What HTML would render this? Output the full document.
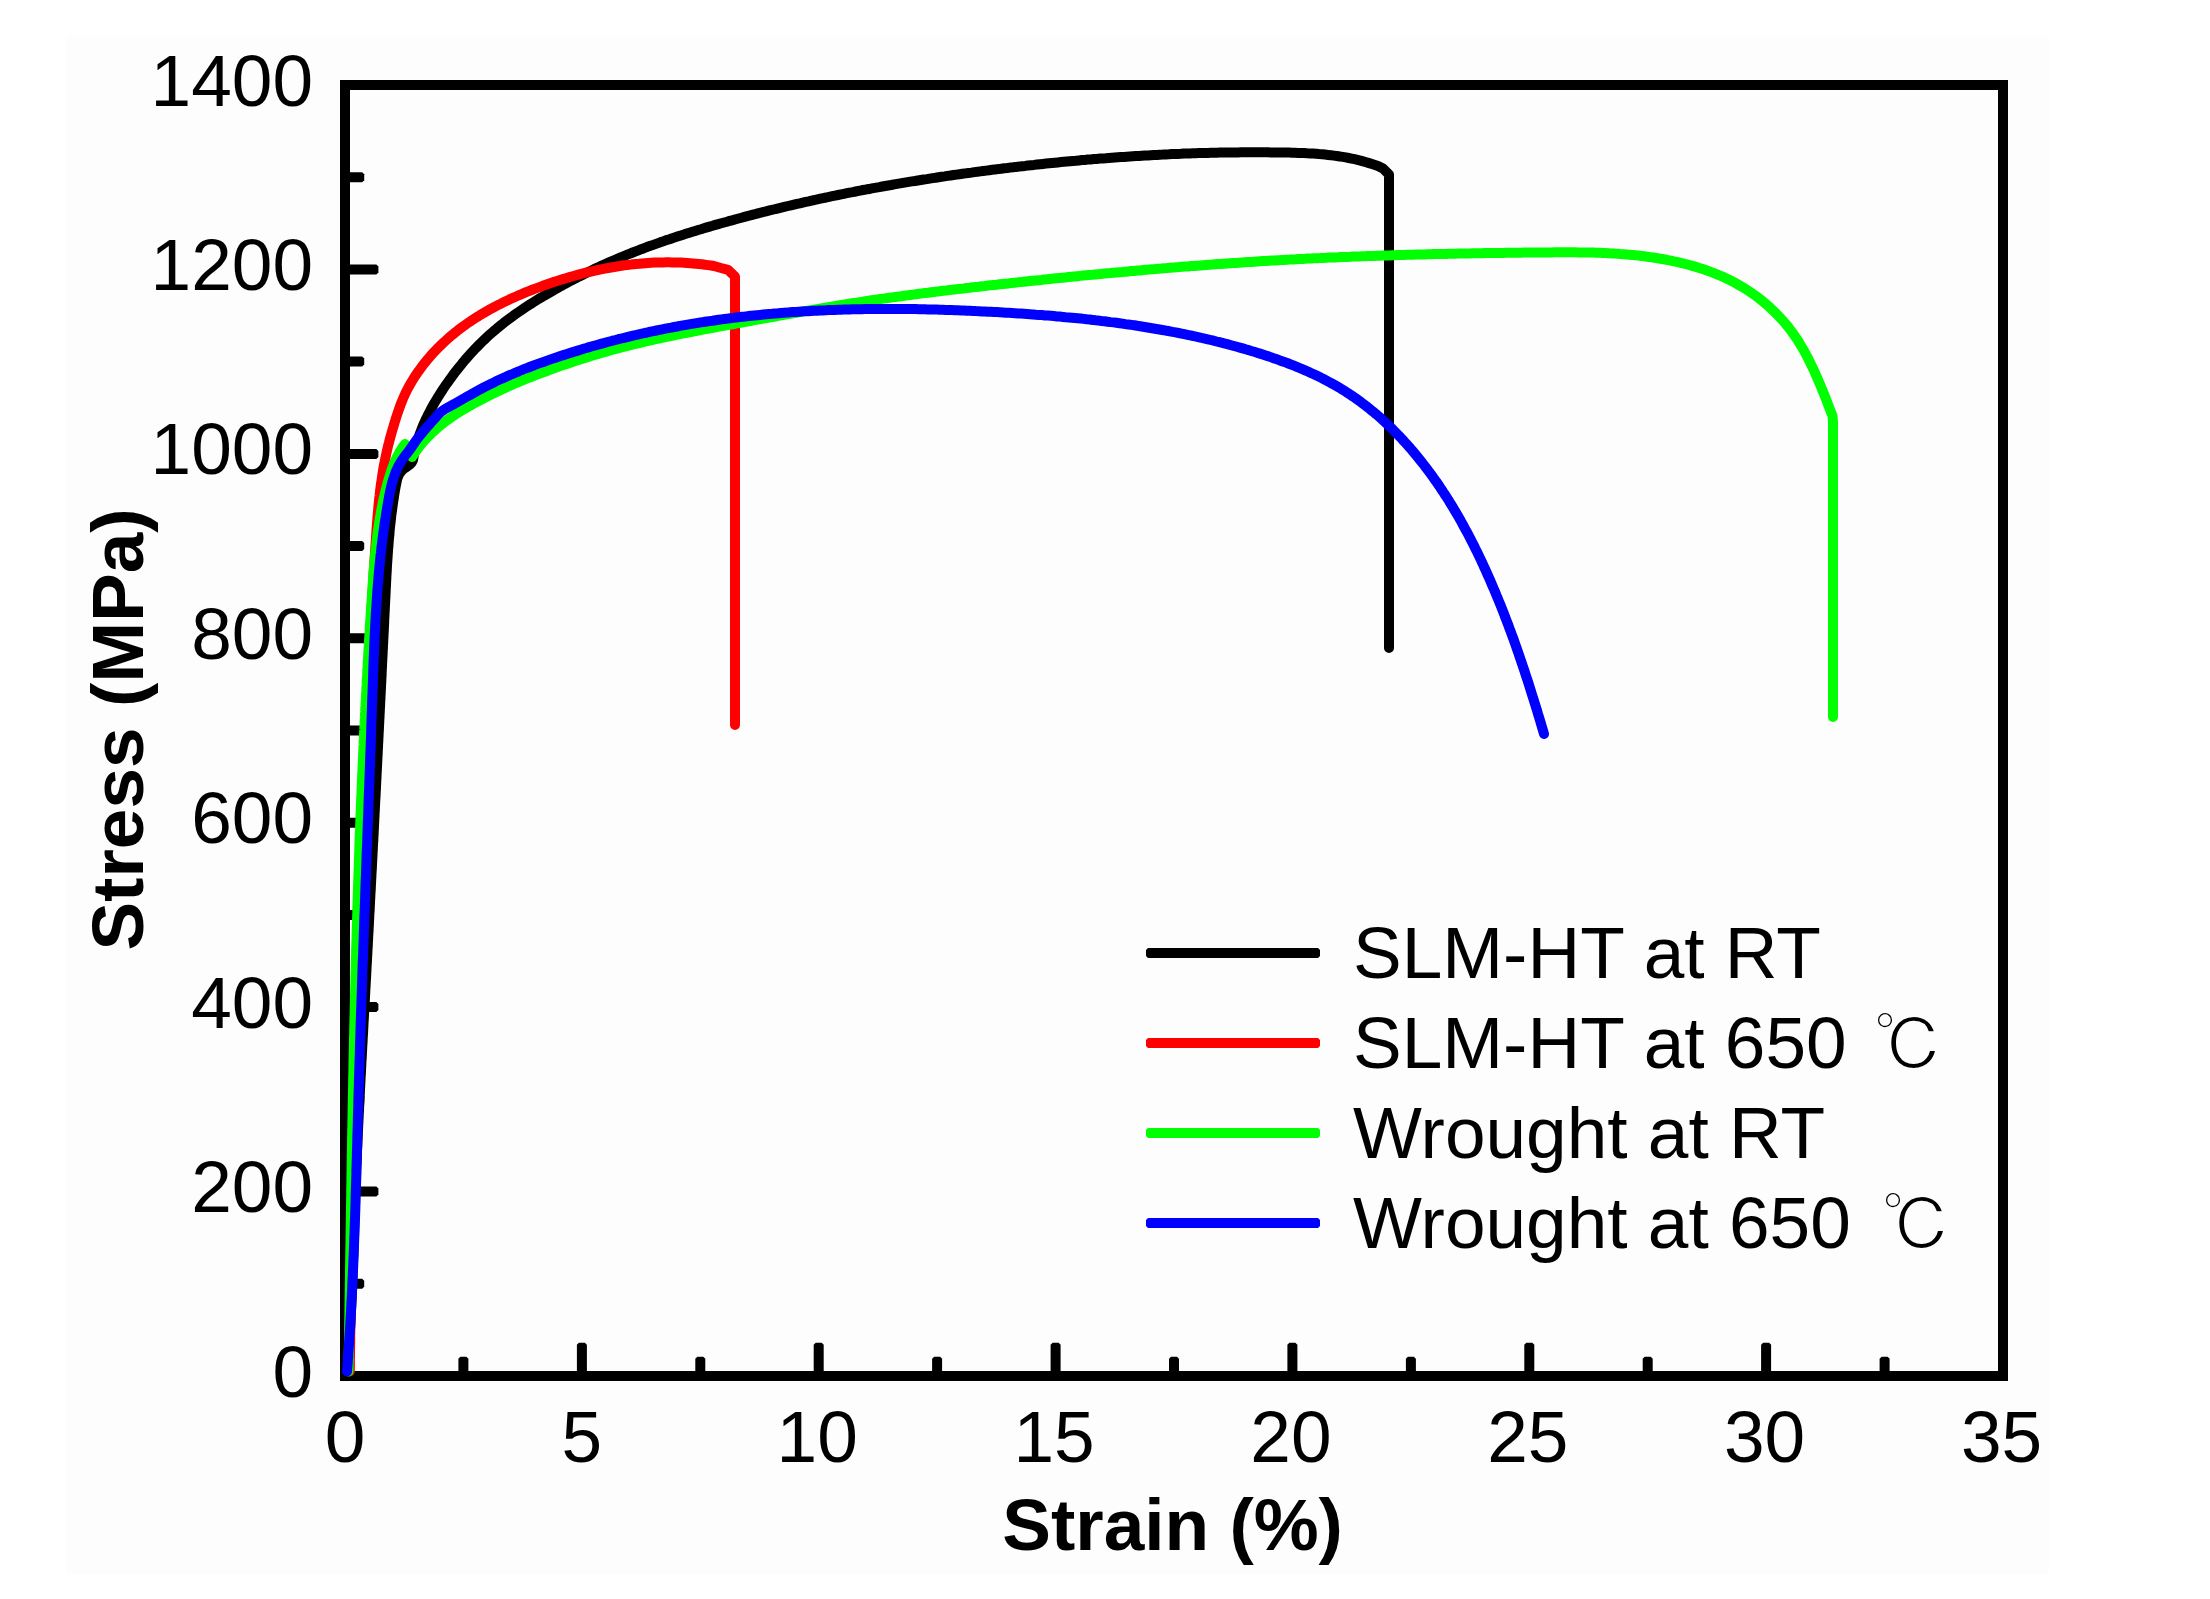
<!DOCTYPE html>
<html><head><meta charset="utf-8"><title>Stress-strain curves</title>
<style>html,body{margin:0;padding:0;background:#fff;width:2210px;height:1599px;overflow:hidden}svg{display:block}</style>
</head><body>
<svg width="2210" height="1599" viewBox="0 0 2210 1599">
<rect x="66" y="36" width="1983" height="1538" fill="#fdfdfd"/>
<g stroke="#000" stroke-width="10" fill="none" stroke-linecap="square">
<path d="M345,85 H2003 V1376 H345 Z" stroke-linejoin="miter"/>
</g>
<g fill="#000">
<path d="M349,1278.8 H362.2 L364.2,1280.8 V1286.8 L362.2,1288.8 H349 Z"/>
<path d="M349,1186.6 H376.4 L378.4,1188.6 V1194.6 L376.4,1196.6 H349 Z"/>
<path d="M349,1094.4 H362.2 L364.2,1096.4 V1102.4 L362.2,1104.4 H349 Z"/>
<path d="M349,1002.1 H376.4 L378.4,1004.1 V1010.1 L376.4,1012.1 H349 Z"/>
<path d="M349,909.9 H362.2 L364.2,911.9 V917.9 L362.2,919.9 H349 Z"/>
<path d="M349,817.7 H376.4 L378.4,819.7 V825.7 L376.4,827.7 H349 Z"/>
<path d="M349,725.5 H362.2 L364.2,727.5 V733.5 L362.2,735.5 H349 Z"/>
<path d="M349,633.3 H376.4 L378.4,635.3 V641.3 L376.4,643.3 H349 Z"/>
<path d="M349,541.1 H362.2 L364.2,543.1 V549.1 L362.2,551.1 H349 Z"/>
<path d="M349,448.9 H376.4 L378.4,450.9 V456.9 L376.4,458.9 H349 Z"/>
<path d="M349,356.6 H362.2 L364.2,358.6 V364.6 L362.2,366.6 H349 Z"/>
<path d="M349,264.4 H376.4 L378.4,266.4 V272.4 L376.4,274.4 H349 Z"/>
<path d="M349,172.2 H362.2 L364.2,174.2 V180.2 L362.2,182.2 H349 Z"/>
<path d="M458.4,1372 V1358.8 L460.4,1356.8 H466.4 L468.4,1358.8 V1372 Z"/>
<path d="M576.9,1372 V1344.7 L578.9,1342.7 H584.9 L586.9,1344.7 V1372 Z"/>
<path d="M695.3,1372 V1358.8 L697.3,1356.8 H703.3 L705.3,1358.8 V1372 Z"/>
<path d="M813.7,1372 V1344.7 L815.7,1342.7 H821.7 L823.7,1344.7 V1372 Z"/>
<path d="M932.1,1372 V1358.8 L934.1,1356.8 H940.1 L942.1,1358.8 V1372 Z"/>
<path d="M1050.6,1372 V1344.7 L1052.6,1342.7 H1058.6 L1060.6,1344.7 V1372 Z"/>
<path d="M1169.0,1372 V1358.8 L1171.0,1356.8 H1177.0 L1179.0,1358.8 V1372 Z"/>
<path d="M1287.4,1372 V1344.7 L1289.4,1342.7 H1295.4 L1297.4,1344.7 V1372 Z"/>
<path d="M1405.9,1372 V1358.8 L1407.9,1356.8 H1413.9 L1415.9,1358.8 V1372 Z"/>
<path d="M1524.3,1372 V1344.7 L1526.3,1342.7 H1532.3 L1534.3,1344.7 V1372 Z"/>
<path d="M1642.7,1372 V1358.8 L1644.7,1356.8 H1650.7 L1652.7,1358.8 V1372 Z"/>
<path d="M1761.1,1372 V1344.7 L1763.1,1342.7 H1769.1 L1771.1,1344.7 V1372 Z"/>
<path d="M1879.6,1372 V1358.8 L1881.6,1356.8 H1887.6 L1889.6,1358.8 V1372 Z"/>
</g>
<g fill="none" stroke-width="10.0" stroke-linejoin="round" stroke-linecap="round">
<path stroke="#000" d="M347.0,1371.5 L347.3,1368.5 L347.5,1365.5 L347.8,1362.5 L348.0,1359.5 L348.2,1356.5 L348.4,1353.5 L348.7,1350.5 L348.9,1347.5 L349.1,1344.5 L349.3,1341.5 L349.5,1338.5 L349.7,1335.5 L349.9,1332.5 L350.0,1329.5 L350.2,1326.5 L350.4,1323.5 L350.5,1320.5 L350.7,1317.5 L350.9,1314.5 L351.0,1311.5 L351.1,1308.5 L351.3,1305.5 L351.4,1302.5 L351.6,1299.5 L351.7,1296.5 L351.8,1293.5 L352.0,1290.5 L352.1,1287.5 L352.2,1284.5 L352.3,1281.5 L352.4,1278.5 L352.5,1275.5 L352.6,1272.5 L352.8,1269.5 L352.9,1266.5 L353.0,1263.5 L353.1,1260.5 L353.2,1257.5 L353.3,1254.5 L353.4,1251.5 L353.5,1248.5 L353.6,1245.5 L353.7,1242.5 L353.8,1239.5 L353.9,1236.5 L354.0,1233.5 L354.1,1230.5 L354.1,1227.5 L354.2,1224.5 L354.3,1221.5 L354.4,1218.5 L354.5,1215.5 L354.6,1212.5 L354.7,1209.5 L354.8,1206.5 L355.0,1203.5 L355.1,1200.5 L355.2,1197.5 L355.3,1194.5 L355.4,1191.5 L355.5,1188.5 L355.6,1185.5 L355.7,1182.5 L355.8,1179.5 L356.0,1176.5 L356.1,1173.5 L356.2,1170.4 L356.3,1167.4 L356.5,1164.4 L356.6,1161.4 L356.7,1158.4 L356.9,1155.4 L357.0,1152.4 L357.1,1149.4 L357.3,1146.4 L357.4,1143.4 L357.5,1140.4 L357.7,1137.4 L357.8,1134.4 L357.9,1131.4 L358.1,1128.4 L358.2,1125.4 L358.4,1122.4 L358.5,1119.4 L358.7,1116.4 L358.8,1113.4 L359.0,1110.4 L359.1,1107.4 L359.3,1104.4 L359.4,1101.4 L359.6,1098.4 L359.7,1095.4 L359.9,1092.4 L360.0,1089.4 L360.2,1086.4 L360.3,1083.4 L360.5,1080.4 L360.6,1077.4 L360.8,1074.4 L361.0,1071.4 L361.1,1068.4 L361.3,1065.4 L361.4,1062.4 L361.6,1059.4 L361.8,1056.4 L361.9,1053.4 L362.1,1050.4 L362.2,1047.4 L362.4,1044.4 L362.6,1041.4 L362.7,1038.4 L362.9,1035.4 L363.1,1032.4 L363.2,1029.4 L363.4,1026.4 L363.5,1023.4 L363.7,1020.4 L363.9,1017.4 L364.0,1014.4 L364.2,1011.4 L364.4,1008.4 L364.5,1005.4 L364.7,1002.4 L364.9,999.4 L365.0,996.4 L365.2,993.4 L365.3,990.4 L365.5,987.4 L365.7,984.4 L365.8,981.4 L366.0,978.4 L366.2,975.4 L366.3,972.4 L366.5,969.4 L366.6,966.4 L366.8,963.4 L367.0,960.4 L367.1,957.4 L367.3,954.4 L367.4,951.4 L367.6,948.4 L367.8,945.4 L367.9,942.4 L368.1,939.4 L368.2,936.4 L368.4,933.4 L368.6,930.4 L368.7,927.4 L368.9,924.4 L369.0,921.4 L369.2,918.4 L369.3,915.4 L369.5,912.4 L369.7,909.4 L369.8,906.4 L370.0,903.4 L370.1,900.4 L370.3,897.4 L370.4,894.4 L370.6,891.4 L370.8,888.4 L370.9,885.4 L371.1,882.4 L371.2,879.4 L371.4,876.4 L371.5,873.4 L371.7,870.4 L371.9,867.4 L372.0,864.4 L372.2,861.4 L372.3,858.4 L372.5,855.4 L372.6,852.4 L372.8,849.4 L372.9,846.4 L373.1,843.4 L373.3,840.4 L373.4,837.4 L373.6,834.4 L373.7,831.4 L373.9,828.4 L374.0,825.4 L374.2,822.4 L374.3,819.4 L374.5,816.4 L374.6,813.4 L374.8,810.4 L374.9,807.4 L375.1,804.4 L375.2,801.4 L375.4,798.4 L375.6,795.4 L375.7,792.4 L375.9,789.4 L376.0,786.4 L376.2,783.4 L376.3,780.4 L376.5,777.4 L376.6,774.4 L376.8,771.4 L376.9,768.4 L377.1,765.4 L377.2,762.4 L377.4,759.4 L377.5,756.4 L377.7,753.4 L377.8,750.4 L378.0,747.4 L378.1,744.4 L378.3,741.4 L378.4,738.4 L378.6,735.4 L378.7,732.4 L378.9,729.4 L379.0,726.4 L379.2,723.4 L379.3,720.4 L379.5,717.4 L379.6,714.4 L379.8,711.4 L379.9,708.4 L380.1,705.4 L380.2,702.4 L380.4,699.4 L380.5,696.4 L380.7,693.4 L380.8,690.4 L381.0,687.4 L381.1,684.4 L381.3,681.4 L381.4,678.4 L381.6,675.4 L381.7,672.4 L381.8,669.4 L382.0,666.4 L382.1,663.4 L382.3,660.3 L382.4,657.3 L382.6,654.3 L382.7,651.3 L382.9,648.3 L383.0,645.3 L383.2,642.3 L383.3,639.3 L383.5,636.3 L383.6,633.3 L383.8,630.3 L383.9,627.3 L384.1,624.3 L384.2,621.3 L384.3,618.3 L384.5,615.3 L384.6,612.3 L384.8,609.3 L384.9,606.3 L385.1,603.3 L385.2,600.3 L385.4,597.3 L385.5,594.3 L385.7,591.3 L385.8,588.2 L386.0,585.2 L386.1,582.2 L386.3,579.2 L386.4,576.2 L386.6,573.2 L386.8,570.2 L386.9,567.2 L387.1,564.2 L387.3,561.2 L387.5,558.2 L387.7,555.2 L387.9,552.2 L388.1,549.2 L388.4,546.2 L388.6,543.2 L388.8,540.3 L389.1,537.3 L389.4,534.3 L389.6,531.3 L389.9,528.3 L390.2,525.3 L390.6,522.3 L390.9,519.4 L391.2,516.4 L391.6,513.4 L392.0,510.5 L392.4,507.5 L392.8,504.5 L393.2,501.6 L393.7,498.6 L394.1,495.6 L394.6,492.7 L395.1,489.7 L395.6,486.8 L396.2,483.9 L396.8,480.9 L397.5,478.1 L398.6,475.4 L400.0,472.9 L401.8,470.6 L404.1,468.5 L406.9,466.7 L409.5,464.8 L411.7,462.7 L413.0,460.0 L413.0,460.0 L413.5,457.0 L414.1,454.0 L414.7,451.0 L415.4,448.1 L416.2,445.2 L417.0,442.3 L417.9,439.4 L418.9,436.6 L419.8,433.8 L420.9,431.0 L422.0,428.2 L423.1,425.4 L424.3,422.7 L425.5,420.0 L426.8,417.3 L428.1,414.6 L429.5,412.0 L430.9,409.3 L432.3,406.7 L433.8,404.1 L435.3,401.5 L436.9,398.9 L438.4,396.4 L440.1,393.8 L441.7,391.3 L443.3,388.8 L445.0,386.3 L446.7,383.8 L448.5,381.3 L450.2,378.9 L452.0,376.5 L453.8,374.0 L455.6,371.6 L457.5,369.3 L459.4,366.9 L461.3,364.6 L463.2,362.2 L465.1,359.9 L467.1,357.6 L469.1,355.4 L471.1,353.2 L473.2,350.9 L475.2,348.7 L477.3,346.6 L479.5,344.4 L481.6,342.3 L483.7,340.2 L485.9,338.2 L488.1,336.1 L490.4,334.1 L492.6,332.1 L494.9,330.2 L497.2,328.2 L499.5,326.3 L501.8,324.5 L504.1,322.6 L506.5,320.8 L508.9,319.0 L511.3,317.2 L513.7,315.4 L516.2,313.7 L518.6,312.0 L521.1,310.3 L523.6,308.6 L526.1,306.9 L528.6,305.3 L531.1,303.7 L533.6,302.1 L536.2,300.5 L538.7,298.9 L541.3,297.4 L543.9,295.8 L546.5,294.3 L549.1,292.8 L551.7,291.3 L554.3,289.8 L556.9,288.4 L559.5,286.9 L562.2,285.5 L564.8,284.0 L567.5,282.6 L570.1,281.2 L572.8,279.8 L575.4,278.4 L578.1,277.1 L580.8,275.7 L583.5,274.4 L586.2,273.0 L588.9,271.7 L591.6,270.4 L594.3,269.1 L597.0,267.8 L599.7,266.6 L602.4,265.3 L605.2,264.1 L607.9,262.9 L610.7,261.7 L613.4,260.5 L616.2,259.3 L618.9,258.1 L621.7,257.0 L624.5,255.8 L627.3,254.7 L630.0,253.6 L632.8,252.5 L635.6,251.4 L638.4,250.3 L641.2,249.2 L644.0,248.2 L646.8,247.1 L649.7,246.1 L652.5,245.1 L655.3,244.1 L658.1,243.1 L661.0,242.1 L663.8,241.1 L666.7,240.1 L669.5,239.2 L672.3,238.2 L675.2,237.3 L678.1,236.3 L680.9,235.4 L683.8,234.5 L686.6,233.6 L689.5,232.7 L692.4,231.8 L695.2,230.9 L698.1,230.0 L701.0,229.2 L703.9,228.3 L706.8,227.4 L709.6,226.6 L712.5,225.8 L715.4,224.9 L718.3,224.1 L721.2,223.3 L724.1,222.5 L727.0,221.7 L729.9,220.8 L732.8,220.1 L735.7,219.3 L738.6,218.5 L741.5,217.7 L744.4,216.9 L747.3,216.1 L750.2,215.4 L753.1,214.6 L756.0,213.9 L758.9,213.1 L761.8,212.4 L764.8,211.7 L767.7,210.9 L770.6,210.2 L773.5,209.5 L776.4,208.8 L779.3,208.1 L782.3,207.4 L785.2,206.7 L788.1,206.0 L791.0,205.3 L794.0,204.6 L796.9,203.9 L799.8,203.3 L802.8,202.6 L805.7,201.9 L808.6,201.3 L811.6,200.6 L814.5,200.0 L817.4,199.3 L820.4,198.7 L823.3,198.1 L826.2,197.5 L829.2,196.8 L832.1,196.2 L835.1,195.6 L838.0,195.0 L841.0,194.4 L843.9,193.8 L846.8,193.2 L849.8,192.6 L852.7,192.1 L855.7,191.5 L858.6,190.9 L861.6,190.3 L864.5,189.8 L867.5,189.2 L870.5,188.7 L873.4,188.1 L876.4,187.6 L879.3,187.1 L882.3,186.5 L885.2,186.0 L888.2,185.5 L891.2,185.0 L894.1,184.4 L897.1,183.9 L900.1,183.4 L903.0,182.9 L906.0,182.4 L908.9,181.9 L911.9,181.4 L914.9,181.0 L917.9,180.5 L920.8,180.0 L923.8,179.5 L926.8,179.1 L929.7,178.6 L932.7,178.1 L935.7,177.7 L938.6,177.2 L941.6,176.8 L944.6,176.4 L947.6,175.9 L950.5,175.5 L953.5,175.0 L956.5,174.6 L959.5,174.2 L962.4,173.8 L965.4,173.4 L968.4,173.0 L971.4,172.6 L974.4,172.1 L977.3,171.8 L980.3,171.4 L983.3,171.0 L986.3,170.6 L989.3,170.2 L992.2,169.8 L995.2,169.4 L998.2,169.1 L1001.2,168.7 L1004.2,168.3 L1007.2,168.0 L1010.1,167.6 L1013.1,167.3 L1016.1,166.9 L1019.1,166.6 L1022.1,166.2 L1025.1,165.9 L1028.1,165.5 L1031.0,165.2 L1034.0,164.9 L1037.0,164.5 L1040.0,164.2 L1043.0,163.9 L1046.0,163.6 L1049.0,163.3 L1052.0,163.0 L1054.9,162.7 L1057.9,162.4 L1060.9,162.1 L1063.9,161.8 L1066.9,161.5 L1069.9,161.2 L1072.9,160.9 L1075.9,160.7 L1078.9,160.4 L1081.9,160.1 L1084.8,159.9 L1087.8,159.6 L1090.8,159.4 L1093.8,159.1 L1096.8,158.9 L1099.8,158.6 L1102.8,158.4 L1105.8,158.2 L1108.8,157.9 L1111.8,157.7 L1114.8,157.5 L1117.8,157.3 L1120.8,157.1 L1123.8,156.9 L1126.8,156.7 L1129.8,156.5 L1132.8,156.3 L1135.8,156.1 L1138.8,155.9 L1141.8,155.7 L1144.8,155.5 L1147.8,155.4 L1150.8,155.2 L1153.8,155.0 L1156.8,154.9 L1159.8,154.7 L1162.8,154.6 L1165.8,154.4 L1168.8,154.3 L1171.8,154.1 L1174.8,154.0 L1177.8,153.9 L1180.8,153.8 L1183.8,153.6 L1186.8,153.5 L1189.8,153.4 L1192.8,153.3 L1195.8,153.2 L1198.8,153.1 L1201.8,153.0 L1204.8,153.0 L1207.8,152.9 L1210.8,152.8 L1213.8,152.7 L1216.8,152.7 L1219.8,152.6 L1222.8,152.6 L1225.8,152.5 L1228.8,152.5 L1231.8,152.4 L1234.8,152.4 L1237.9,152.4 L1240.9,152.3 L1243.9,152.3 L1246.9,152.3 L1249.9,152.3 L1252.9,152.3 L1255.9,152.3 L1258.9,152.3 L1261.9,152.3 L1264.9,152.3 L1267.9,152.3 L1271.0,152.4 L1274.0,152.4 L1277.0,152.4 L1280.0,152.5 L1283.0,152.5 L1286.0,152.6 L1289.0,152.6 L1292.0,152.7 L1295.0,152.8 L1298.0,152.9 L1301.0,153.0 L1304.1,153.1 L1307.1,153.3 L1310.1,153.4 L1313.1,153.6 L1316.0,153.8 L1319.0,154.1 L1322.0,154.3 L1325.0,154.6 L1328.0,154.9 L1331.0,155.2 L1333.9,155.6 L1336.9,156.0 L1339.9,156.5 L1342.8,156.9 L1345.8,157.4 L1348.7,158.0 L1351.6,158.6 L1354.6,159.2 L1357.5,159.9 L1360.4,160.6 L1363.3,161.4 L1366.2,162.2 L1369.1,163.1 L1372.0,164.0 L1372.0,164.0 L1378.0,166.0 L1383.0,168.5 L1389.0,174.5 L1389.0,648.0"/>
<path stroke="#f00" d="M349.8,1371.5 L349.8,1368.5 L349.9,1365.5 L349.9,1362.5 L349.9,1359.5 L350.0,1356.5 L350.0,1353.5 L350.0,1350.5 L350.1,1347.5 L350.1,1344.5 L350.2,1341.5 L350.2,1338.5 L350.2,1335.5 L350.3,1332.5 L350.3,1329.5 L350.4,1326.5 L350.4,1323.5 L350.5,1320.5 L350.5,1317.5 L350.6,1314.5 L350.6,1311.5 L350.7,1308.5 L350.7,1305.5 L350.8,1302.5 L350.8,1299.5 L350.9,1296.5 L350.9,1293.4 L351.0,1290.4 L351.1,1287.4 L351.1,1284.4 L351.2,1281.4 L351.2,1278.4 L351.3,1275.4 L351.4,1272.4 L351.4,1269.4 L351.5,1266.4 L351.6,1263.4 L351.6,1260.4 L351.7,1257.4 L351.8,1254.4 L351.8,1251.4 L351.9,1248.4 L352.0,1245.4 L352.0,1242.4 L352.1,1239.4 L352.2,1236.4 L352.2,1233.4 L352.3,1230.4 L352.4,1227.4 L352.5,1224.4 L352.5,1221.4 L352.6,1218.4 L352.7,1215.4 L352.8,1212.4 L352.8,1209.4 L352.9,1206.4 L353.0,1203.4 L353.1,1200.4 L353.1,1197.4 L353.2,1194.4 L353.3,1191.4 L353.4,1188.4 L353.5,1185.4 L353.5,1182.4 L353.6,1179.4 L353.7,1176.4 L353.8,1173.4 L353.9,1170.4 L353.9,1167.4 L354.0,1164.4 L354.1,1161.4 L354.2,1158.4 L354.3,1155.4 L354.4,1152.4 L354.4,1149.4 L354.5,1146.4 L354.6,1143.4 L354.7,1140.4 L354.8,1137.4 L354.9,1134.4 L354.9,1131.4 L355.0,1128.4 L355.1,1125.4 L355.2,1122.4 L355.3,1119.4 L355.4,1116.4 L355.5,1113.4 L355.5,1110.4 L355.6,1107.4 L355.7,1104.4 L355.8,1101.4 L355.9,1098.4 L356.0,1095.4 L356.1,1092.4 L356.2,1089.4 L356.2,1086.4 L356.3,1083.4 L356.4,1080.4 L356.5,1077.4 L356.6,1074.4 L356.7,1071.4 L356.8,1068.4 L356.8,1065.4 L356.9,1062.4 L357.0,1059.4 L357.1,1056.4 L357.2,1053.4 L357.3,1050.4 L357.4,1047.4 L357.4,1044.4 L357.5,1041.4 L357.6,1038.4 L357.7,1035.4 L357.8,1032.4 L357.9,1029.4 L357.9,1026.4 L358.0,1023.4 L358.1,1020.4 L358.2,1017.4 L358.3,1014.4 L358.4,1011.4 L358.4,1008.4 L358.5,1005.4 L358.6,1002.4 L358.7,999.4 L358.8,996.4 L358.8,993.4 L358.9,990.4 L359.0,987.4 L359.1,984.4 L359.2,981.4 L359.2,978.4 L359.3,975.4 L359.4,972.4 L359.5,969.4 L359.5,966.4 L359.6,963.4 L359.7,960.4 L359.8,957.4 L359.9,954.4 L359.9,951.4 L360.0,948.4 L360.1,945.4 L360.2,942.4 L360.2,939.4 L360.3,936.4 L360.4,933.4 L360.5,930.4 L360.5,927.4 L360.6,924.4 L360.7,921.4 L360.8,918.4 L360.8,915.4 L360.9,912.4 L361.0,909.3 L361.1,906.3 L361.1,903.3 L361.2,900.3 L361.3,897.3 L361.4,894.3 L361.4,891.3 L361.5,888.3 L361.6,885.3 L361.7,882.3 L361.8,879.3 L361.8,876.3 L361.9,873.3 L362.0,870.3 L362.1,867.3 L362.1,864.3 L362.2,861.3 L362.3,858.3 L362.4,855.3 L362.5,852.3 L362.5,849.3 L362.6,846.3 L362.7,843.3 L362.8,840.3 L362.9,837.3 L362.9,834.3 L363.0,831.3 L363.1,828.3 L363.2,825.3 L363.3,822.3 L363.4,819.3 L363.4,816.3 L363.5,813.3 L363.6,810.3 L363.7,807.3 L363.8,804.3 L363.9,801.3 L364.0,798.3 L364.1,795.3 L364.2,792.3 L364.2,789.3 L364.3,786.3 L364.4,783.3 L364.5,780.3 L364.6,777.3 L364.7,774.3 L364.8,771.3 L364.9,768.3 L365.0,765.3 L365.1,762.3 L365.2,759.3 L365.3,756.3 L365.4,753.3 L365.5,750.3 L365.6,747.3 L365.7,744.3 L365.8,741.3 L365.9,738.3 L366.0,735.3 L366.1,732.3 L366.2,729.3 L366.3,726.3 L366.5,723.3 L366.6,720.3 L366.7,717.3 L366.8,714.3 L366.9,711.3 L367.0,708.3 L367.1,705.3 L367.3,702.3 L367.4,699.3 L367.5,696.3 L367.6,693.3 L367.7,690.3 L367.9,687.3 L368.0,684.3 L368.1,681.3 L368.2,678.3 L368.4,675.3 L368.5,672.3 L368.6,669.3 L368.8,666.3 L368.9,663.3 L369.0,660.3 L369.2,657.3 L369.3,654.3 L369.5,651.3 L369.6,648.3 L369.7,645.3 L369.9,642.3 L370.0,639.3 L370.2,636.3 L370.3,633.3 L370.5,630.3 L370.6,627.3 L370.8,624.3 L370.9,621.3 L371.1,618.3 L371.3,615.3 L371.4,612.3 L371.6,609.3 L371.7,606.4 L371.9,603.4 L372.1,600.4 L372.2,597.4 L372.4,594.4 L372.6,591.4 L372.8,588.4 L372.9,585.4 L373.1,582.4 L373.3,579.4 L373.5,576.4 L373.6,573.4 L373.8,570.4 L374.0,567.4 L374.2,564.4 L374.4,561.4 L374.6,558.4 L374.8,555.4 L375.0,552.4 L375.2,549.4 L375.4,546.4 L375.6,543.4 L375.8,540.4 L376.0,537.4 L376.2,534.5 L376.4,531.5 L376.6,528.5 L376.8,525.5 L377.1,522.5 L377.3,519.5 L377.6,516.5 L377.8,513.5 L378.1,510.5 L378.3,507.5 L378.6,504.6 L378.9,501.6 L379.2,498.6 L379.6,495.6 L379.9,492.6 L380.3,489.7 L380.6,486.7 L381.0,483.7 L381.5,480.8 L381.9,477.8 L382.3,474.8 L382.8,471.9 L383.3,468.9 L383.8,466.0 L384.4,463.0 L385.0,460.1 L385.6,457.1 L386.2,454.2 L386.8,451.3 L387.5,448.3 L388.2,445.4 L389.0,442.5 L389.7,439.6 L390.5,436.7 L391.3,433.8 L392.1,430.9 L393.0,428.0 L393.9,425.1 L394.7,422.2 L395.6,419.4 L396.5,416.5 L397.4,413.7 L398.4,410.8 L399.4,408.0 L400.4,405.2 L401.5,402.4 L402.6,399.7 L403.8,396.9 L405.0,394.2 L406.3,391.5 L407.7,388.8 L409.1,386.2 L410.6,383.6 L412.1,381.0 L413.7,378.4 L415.3,375.9 L417.0,373.4 L418.7,370.9 L420.5,368.5 L422.3,366.0 L424.1,363.7 L426.0,361.3 L427.9,359.0 L429.9,356.7 L431.9,354.4 L433.9,352.2 L436.0,350.0 L438.1,347.9 L440.2,345.7 L442.4,343.7 L444.6,341.6 L446.8,339.6 L449.0,337.6 L451.3,335.7 L453.6,333.8 L455.9,331.9 L458.3,330.1 L460.6,328.3 L463.0,326.5 L465.5,324.7 L467.9,323.0 L470.4,321.3 L472.8,319.7 L475.4,318.1 L477.9,316.5 L480.4,314.9 L483.0,313.4 L485.6,311.9 L488.2,310.4 L490.8,308.9 L493.4,307.5 L496.1,306.1 L498.7,304.7 L501.4,303.4 L504.1,302.0 L506.8,300.7 L509.5,299.4 L512.3,298.2 L515.0,297.0 L517.8,295.7 L520.5,294.6 L523.3,293.4 L526.1,292.2 L528.9,291.1 L531.7,290.0 L534.5,288.9 L537.3,287.9 L540.2,286.8 L543.0,285.8 L545.8,284.8 L548.7,283.8 L551.5,282.8 L554.4,281.8 L557.2,280.9 L560.1,280.0 L563.0,279.1 L565.9,278.2 L568.7,277.4 L571.6,276.5 L574.5,275.7 L577.4,274.9 L580.3,274.1 L583.2,273.4 L586.1,272.7 L589.1,272.0 L592.0,271.3 L594.9,270.6 L597.8,270.0 L600.8,269.4 L603.7,268.8 L606.6,268.2 L609.6,267.7 L612.5,267.2 L615.5,266.7 L618.4,266.2 L621.4,265.8 L624.3,265.3 L627.3,265.0 L630.3,264.6 L633.2,264.2 L636.2,263.9 L639.2,263.7 L642.2,263.4 L645.1,263.2 L648.1,263.0 L651.1,262.8 L654.1,262.6 L657.1,262.5 L660.0,262.4 L663.0,262.4 L666.0,262.3 L669.0,262.3 L672.0,262.4 L675.0,262.4 L678.0,262.5 L681.0,262.6 L684.0,262.8 L687.0,263.0 L690.0,263.2 L693.0,263.4 L696.0,263.7 L699.0,264.0 L702.0,264.3 L705.0,264.7 L708.0,265.1 L711.0,265.5 L714.0,266.0 L714.0,266.0 L721.0,268.0 L728.0,269.8 L735.0,276.5 L735.0,725.0"/>
<path stroke="#0f0" d="M348.5,1371.5 L348.5,1368.5 L348.6,1365.5 L348.6,1362.5 L348.7,1359.5 L348.7,1356.5 L348.8,1353.5 L348.8,1350.5 L348.9,1347.5 L348.9,1344.5 L349.0,1341.5 L349.0,1338.5 L349.1,1335.5 L349.1,1332.5 L349.1,1329.5 L349.2,1326.5 L349.2,1323.5 L349.3,1320.5 L349.3,1317.5 L349.4,1314.5 L349.4,1311.5 L349.5,1308.5 L349.5,1305.5 L349.6,1302.5 L349.6,1299.5 L349.6,1296.4 L349.7,1293.4 L349.7,1290.4 L349.8,1287.4 L349.8,1284.4 L349.9,1281.4 L349.9,1278.4 L350.0,1275.4 L350.0,1272.4 L350.0,1269.4 L350.1,1266.4 L350.1,1263.4 L350.2,1260.4 L350.2,1257.4 L350.3,1254.4 L350.3,1251.4 L350.4,1248.4 L350.4,1245.4 L350.5,1242.4 L350.5,1239.4 L350.5,1236.4 L350.6,1233.4 L350.6,1230.4 L350.7,1227.4 L350.7,1224.4 L350.8,1221.4 L350.8,1218.4 L350.9,1215.4 L350.9,1212.4 L351.0,1209.4 L351.0,1206.4 L351.1,1203.4 L351.1,1200.4 L351.2,1197.4 L351.2,1194.4 L351.2,1191.4 L351.3,1188.4 L351.3,1185.4 L351.4,1182.4 L351.4,1179.4 L351.5,1176.4 L351.5,1173.4 L351.6,1170.4 L351.6,1167.4 L351.7,1164.4 L351.7,1161.4 L351.8,1158.4 L351.8,1155.4 L351.9,1152.4 L351.9,1149.4 L352.0,1146.4 L352.0,1143.4 L352.1,1140.4 L352.1,1137.4 L352.2,1134.4 L352.2,1131.4 L352.3,1128.4 L352.4,1125.4 L352.4,1122.4 L352.5,1119.4 L352.5,1116.4 L352.6,1113.4 L352.6,1110.4 L352.7,1107.4 L352.7,1104.4 L352.8,1101.4 L352.8,1098.4 L352.9,1095.4 L353.0,1092.4 L353.0,1089.4 L353.1,1086.4 L353.1,1083.4 L353.2,1080.4 L353.2,1077.4 L353.3,1074.4 L353.4,1071.4 L353.4,1068.4 L353.5,1065.4 L353.5,1062.4 L353.6,1059.4 L353.7,1056.4 L353.7,1053.4 L353.8,1050.4 L353.9,1047.4 L353.9,1044.4 L354.0,1041.4 L354.0,1038.4 L354.1,1035.4 L354.2,1032.4 L354.2,1029.4 L354.3,1026.4 L354.4,1023.4 L354.4,1020.4 L354.5,1017.4 L354.6,1014.4 L354.7,1011.4 L354.7,1008.4 L354.8,1005.4 L354.9,1002.4 L354.9,999.4 L355.0,996.4 L355.1,993.4 L355.1,990.4 L355.2,987.4 L355.3,984.4 L355.4,981.4 L355.4,978.4 L355.5,975.4 L355.6,972.4 L355.7,969.4 L355.8,966.4 L355.8,963.4 L355.9,960.4 L356.0,957.4 L356.1,954.4 L356.1,951.4 L356.2,948.4 L356.3,945.4 L356.4,942.4 L356.5,939.4 L356.6,936.4 L356.6,933.4 L356.7,930.4 L356.8,927.4 L356.9,924.4 L357.0,921.4 L357.1,918.4 L357.2,915.4 L357.3,912.4 L357.3,909.4 L357.4,906.4 L357.5,903.4 L357.6,900.4 L357.7,897.4 L357.8,894.4 L357.9,891.4 L358.0,888.4 L358.1,885.4 L358.2,882.4 L358.3,879.4 L358.4,876.4 L358.5,873.4 L358.6,870.4 L358.7,867.4 L358.8,864.4 L358.9,861.4 L359.0,858.4 L359.1,855.4 L359.2,852.4 L359.3,849.4 L359.4,846.4 L359.5,843.4 L359.6,840.4 L359.7,837.4 L359.8,834.4 L360.0,831.4 L360.1,828.4 L360.2,825.4 L360.3,822.4 L360.4,819.4 L360.5,816.4 L360.6,813.4 L360.8,810.4 L360.9,807.4 L361.0,804.4 L361.1,801.4 L361.2,798.4 L361.4,795.4 L361.5,792.4 L361.6,789.4 L361.7,786.4 L361.9,783.4 L362.0,780.4 L362.1,777.4 L362.2,774.4 L362.4,771.4 L362.5,768.4 L362.6,765.4 L362.8,762.4 L362.9,759.4 L363.0,756.4 L363.2,753.4 L363.3,750.4 L363.4,747.5 L363.6,744.5 L363.7,741.5 L363.9,738.5 L364.0,735.5 L364.1,732.5 L364.3,729.5 L364.4,726.5 L364.6,723.5 L364.7,720.5 L364.9,717.5 L365.0,714.5 L365.2,711.5 L365.3,708.5 L365.5,705.5 L365.6,702.5 L365.8,699.5 L365.9,696.5 L366.1,693.5 L366.3,690.5 L366.4,687.5 L366.6,684.5 L366.7,681.5 L366.9,678.5 L367.1,675.5 L367.2,672.5 L367.4,669.5 L367.6,666.5 L367.7,663.5 L367.9,660.5 L368.1,657.5 L368.2,654.5 L368.4,651.5 L368.6,648.5 L368.8,645.5 L368.9,642.5 L369.1,639.5 L369.3,636.5 L369.5,633.5 L369.7,630.5 L369.8,627.5 L370.0,624.5 L370.2,621.5 L370.4,618.5 L370.6,615.5 L370.8,612.5 L371.0,609.5 L371.2,606.5 L371.4,603.5 L371.6,600.5 L371.8,597.5 L372.0,594.5 L372.2,591.5 L372.4,588.5 L372.6,585.5 L372.8,582.5 L373.0,579.5 L373.2,576.5 L373.5,573.5 L373.7,570.5 L373.9,567.5 L374.2,564.5 L374.5,561.5 L374.7,558.6 L375.0,555.6 L375.3,552.6 L375.6,549.6 L376.0,546.6 L376.3,543.7 L376.7,540.7 L377.0,537.7 L377.4,534.7 L377.8,531.8 L378.2,528.8 L378.7,525.9 L379.1,522.9 L379.6,519.9 L380.1,517.0 L380.6,514.1 L381.1,511.1 L381.7,508.2 L382.3,505.2 L382.9,502.3 L383.5,499.4 L384.2,496.5 L384.9,493.6 L385.6,490.6 L386.3,487.7 L387.1,484.8 L387.9,481.9 L388.7,479.1 L389.6,476.2 L390.5,473.3 L391.4,470.4 L392.4,467.6 L393.5,464.8 L394.6,462.0 L395.8,459.3 L397.1,456.6 L398.5,454.0 L399.9,451.4 L401.5,448.9 L403.2,446.4 L405.0,444.0 L405.0,444.0 L408.0,452.0 L412.0,457.0 L412.0,457.0 L413.7,454.4 L415.4,451.9 L417.2,449.5 L419.0,447.1 L420.9,444.7 L422.8,442.4 L424.8,440.2 L426.8,438.0 L428.9,435.9 L431.0,433.8 L433.2,431.7 L435.4,429.7 L437.6,427.8 L439.9,425.8 L442.2,424.0 L444.6,422.1 L447.0,420.3 L449.4,418.6 L451.9,416.9 L454.3,415.2 L456.8,413.5 L459.4,411.9 L461.9,410.3 L464.5,408.8 L467.1,407.3 L469.7,405.8 L472.4,404.3 L475.0,402.9 L477.7,401.5 L480.3,400.1 L483.0,398.7 L485.7,397.3 L488.4,396.0 L491.1,394.6 L493.8,393.3 L496.5,392.0 L499.2,390.7 L501.9,389.4 L504.6,388.2 L507.3,386.9 L510.1,385.7 L512.8,384.5 L515.5,383.3 L518.3,382.1 L521.1,380.9 L523.8,379.8 L526.6,378.7 L529.4,377.6 L532.2,376.5 L535.0,375.4 L537.8,374.3 L540.6,373.3 L543.4,372.2 L546.2,371.2 L549.0,370.2 L551.8,369.1 L554.6,368.1 L557.5,367.1 L560.3,366.1 L563.2,365.1 L566.0,364.2 L568.8,363.2 L571.7,362.2 L574.5,361.3 L577.4,360.3 L580.3,359.4 L583.1,358.5 L586.0,357.6 L588.9,356.7 L591.7,355.8 L594.6,354.9 L597.5,354.1 L600.4,353.2 L603.3,352.4 L606.1,351.6 L609.0,350.7 L611.9,350.0 L614.8,349.2 L617.7,348.4 L620.6,347.6 L623.5,346.9 L626.5,346.1 L629.4,345.4 L632.3,344.7 L635.2,344.0 L638.1,343.3 L641.0,342.6 L644.0,341.9 L646.9,341.2 L649.8,340.6 L652.7,339.9 L655.7,339.2 L658.6,338.6 L661.5,338.0 L664.5,337.3 L667.4,336.7 L670.3,336.1 L673.3,335.5 L676.2,334.9 L679.2,334.3 L682.1,333.7 L685.1,333.1 L688.0,332.5 L691.0,332.0 L693.9,331.4 L696.9,330.8 L699.8,330.3 L702.8,329.7 L705.7,329.1 L708.7,328.6 L711.6,328.0 L714.6,327.5 L717.5,326.9 L720.5,326.4 L723.4,325.8 L726.4,325.3 L729.4,324.8 L732.3,324.2 L735.3,323.7 L738.2,323.1 L741.2,322.6 L744.1,322.1 L747.1,321.5 L750.1,321.0 L753.0,320.4 L756.0,319.9 L758.9,319.4 L761.9,318.8 L764.8,318.3 L767.8,317.8 L770.8,317.2 L773.7,316.7 L776.7,316.2 L779.6,315.6 L782.6,315.1 L785.5,314.6 L788.5,314.0 L791.5,313.5 L794.4,313.0 L797.4,312.5 L800.3,311.9 L803.3,311.4 L806.3,310.9 L809.2,310.4 L812.2,309.9 L815.1,309.4 L818.1,308.9 L821.1,308.4 L824.0,307.9 L827.0,307.4 L830.0,306.9 L832.9,306.4 L835.9,305.9 L838.8,305.4 L841.8,304.9 L844.8,304.5 L847.7,304.0 L850.7,303.5 L853.7,303.0 L856.6,302.6 L859.6,302.1 L862.6,301.7 L865.5,301.2 L868.5,300.8 L871.5,300.3 L874.5,299.9 L877.4,299.5 L880.4,299.0 L883.4,298.6 L886.3,298.2 L889.3,297.8 L892.3,297.4 L895.3,297.0 L898.2,296.6 L901.2,296.2 L904.2,295.8 L907.2,295.4 L910.1,295.0 L913.1,294.6 L916.1,294.2 L919.1,293.8 L922.1,293.4 L925.0,293.0 L928.0,292.7 L931.0,292.3 L934.0,291.9 L937.0,291.6 L939.9,291.2 L942.9,290.8 L945.9,290.5 L948.9,290.1 L951.9,289.8 L954.8,289.4 L957.8,289.1 L960.8,288.7 L963.8,288.4 L966.8,288.0 L969.8,287.7 L972.7,287.3 L975.7,287.0 L978.7,286.7 L981.7,286.3 L984.7,286.0 L987.7,285.6 L990.7,285.3 L993.6,285.0 L996.6,284.7 L999.6,284.3 L1002.6,284.0 L1005.6,283.7 L1008.6,283.4 L1011.6,283.0 L1014.6,282.7 L1017.5,282.4 L1020.5,282.1 L1023.5,281.7 L1026.5,281.4 L1029.5,281.1 L1032.5,280.8 L1035.5,280.5 L1038.5,280.2 L1041.5,279.9 L1044.5,279.5 L1047.4,279.2 L1050.4,278.9 L1053.4,278.6 L1056.4,278.3 L1059.4,278.0 L1062.4,277.7 L1065.4,277.4 L1068.4,277.1 L1071.4,276.8 L1074.4,276.5 L1077.4,276.2 L1080.3,275.9 L1083.3,275.6 L1086.3,275.3 L1089.3,275.0 L1092.3,274.8 L1095.3,274.5 L1098.3,274.2 L1101.3,273.9 L1104.3,273.6 L1107.3,273.3 L1110.3,273.1 L1113.3,272.8 L1116.3,272.5 L1119.3,272.2 L1122.2,272.0 L1125.2,271.7 L1128.2,271.4 L1131.2,271.1 L1134.2,270.9 L1137.2,270.6 L1140.2,270.4 L1143.2,270.1 L1146.2,269.8 L1149.2,269.6 L1152.2,269.3 L1155.2,269.1 L1158.2,268.8 L1161.2,268.6 L1164.2,268.3 L1167.2,268.1 L1170.2,267.8 L1173.2,267.6 L1176.1,267.3 L1179.1,267.1 L1182.1,266.8 L1185.1,266.6 L1188.1,266.4 L1191.1,266.1 L1194.1,265.9 L1197.1,265.7 L1200.1,265.5 L1203.1,265.2 L1206.1,265.0 L1209.1,264.8 L1212.1,264.6 L1215.1,264.3 L1218.1,264.1 L1221.1,263.9 L1224.1,263.7 L1227.1,263.5 L1230.1,263.3 L1233.1,263.1 L1236.1,262.9 L1239.1,262.7 L1242.1,262.5 L1245.1,262.3 L1248.1,262.1 L1251.1,261.9 L1254.1,261.7 L1257.1,261.5 L1260.0,261.3 L1263.0,261.1 L1266.0,261.0 L1269.0,260.8 L1272.0,260.6 L1275.0,260.4 L1278.0,260.2 L1281.0,260.1 L1284.0,259.9 L1287.0,259.7 L1290.0,259.6 L1293.0,259.4 L1296.0,259.3 L1299.0,259.1 L1302.0,258.9 L1305.0,258.8 L1308.0,258.6 L1311.0,258.5 L1314.0,258.3 L1317.0,258.2 L1320.0,258.1 L1323.0,257.9 L1326.0,257.8 L1329.0,257.6 L1332.0,257.5 L1335.0,257.4 L1338.0,257.3 L1341.0,257.1 L1344.0,257.0 L1347.0,256.9 L1350.0,256.8 L1353.0,256.6 L1356.0,256.5 L1359.0,256.4 L1361.9,256.3 L1364.9,256.2 L1367.9,256.1 L1370.9,256.0 L1373.9,255.9 L1376.9,255.8 L1379.9,255.7 L1382.9,255.6 L1385.9,255.5 L1388.9,255.4 L1391.9,255.3 L1394.9,255.2 L1397.9,255.1 L1400.9,255.0 L1403.9,254.9 L1406.9,254.8 L1409.9,254.7 L1412.9,254.7 L1415.9,254.6 L1418.9,254.5 L1421.9,254.4 L1424.9,254.4 L1427.9,254.3 L1430.9,254.2 L1434.0,254.1 L1437.0,254.1 L1440.0,254.0 L1443.0,253.9 L1446.0,253.9 L1449.0,253.8 L1452.0,253.7 L1455.0,253.7 L1458.0,253.6 L1461.0,253.6 L1464.0,253.5 L1467.0,253.5 L1470.0,253.4 L1473.0,253.3 L1476.0,253.3 L1479.0,253.2 L1482.0,253.2 L1485.0,253.1 L1488.0,253.1 L1491.1,253.1 L1494.1,253.0 L1497.1,253.0 L1500.1,252.9 L1503.1,252.9 L1506.1,252.8 L1509.1,252.8 L1512.1,252.8 L1515.1,252.7 L1518.2,252.7 L1521.2,252.7 L1524.2,252.6 L1527.2,252.6 L1530.2,252.6 L1533.2,252.5 L1536.2,252.5 L1539.3,252.5 L1542.3,252.4 L1545.3,252.4 L1548.3,252.4 L1551.3,252.4 L1554.3,252.3 L1557.4,252.3 L1560.4,252.3 L1563.4,252.3 L1566.4,252.3 L1569.4,252.3 L1572.4,252.3 L1575.5,252.3 L1578.5,252.4 L1581.5,252.4 L1584.5,252.4 L1587.5,252.5 L1590.5,252.6 L1593.5,252.6 L1596.5,252.7 L1599.5,252.8 L1602.5,253.0 L1605.5,253.1 L1608.5,253.2 L1611.5,253.4 L1614.5,253.6 L1617.5,253.7 L1620.5,254.0 L1623.5,254.2 L1626.5,254.4 L1629.5,254.7 L1632.5,255.0 L1635.4,255.3 L1638.4,255.6 L1641.4,255.9 L1644.4,256.3 L1647.3,256.7 L1650.3,257.1 L1653.2,257.5 L1656.2,258.0 L1659.1,258.5 L1662.1,259.0 L1665.0,259.5 L1668.0,260.1 L1670.9,260.6 L1673.8,261.3 L1676.8,261.9 L1679.7,262.6 L1682.6,263.3 L1685.5,264.0 L1688.4,264.8 L1691.3,265.6 L1694.2,266.4 L1697.1,267.3 L1700.0,268.2 L1702.8,269.1 L1705.7,270.1 L1708.5,271.1 L1711.3,272.1 L1714.1,273.2 L1716.9,274.3 L1719.7,275.5 L1722.5,276.7 L1725.2,277.9 L1727.9,279.2 L1730.6,280.5 L1733.3,281.9 L1736.0,283.3 L1738.6,284.8 L1741.2,286.3 L1743.8,287.8 L1746.3,289.4 L1748.9,291.1 L1751.4,292.8 L1753.8,294.5 L1756.3,296.3 L1758.7,298.1 L1761.1,300.0 L1763.4,301.9 L1765.7,303.8 L1768.0,305.8 L1770.2,307.8 L1772.4,309.9 L1774.6,312.0 L1776.7,314.1 L1778.8,316.3 L1780.9,318.5 L1782.9,320.7 L1784.9,323.0 L1786.8,325.3 L1788.7,327.7 L1790.5,330.0 L1792.3,332.4 L1794.0,334.9 L1795.7,337.3 L1797.4,339.8 L1799.0,342.3 L1800.5,344.9 L1802.1,347.5 L1803.6,350.0 L1805.0,352.6 L1806.4,355.3 L1807.8,357.9 L1809.2,360.6 L1810.5,363.3 L1811.8,366.0 L1813.1,368.7 L1814.4,371.4 L1815.6,374.2 L1816.8,376.9 L1818.0,379.7 L1819.2,382.5 L1820.4,385.2 L1821.5,388.0 L1822.6,390.8 L1823.8,393.6 L1824.9,396.4 L1826.0,399.2 L1827.1,402.0 L1828.2,404.8 L1829.2,407.6 L1830.3,410.4 L1831.4,413.2 L1832.5,416.0 L1832.5,416.0 L1833.0,422.0 L1833.0,717.0"/>
<path stroke="#00f" d="M347.0,1371.5 L347.2,1368.5 L347.5,1365.5 L347.7,1362.5 L347.9,1359.5 L348.1,1356.5 L348.3,1353.5 L348.5,1350.6 L348.7,1347.6 L349.0,1344.6 L349.1,1341.6 L349.3,1338.6 L349.5,1335.6 L349.7,1332.6 L349.9,1329.6 L350.1,1326.6 L350.3,1323.6 L350.5,1320.6 L350.6,1317.6 L350.8,1314.6 L351.0,1311.6 L351.1,1308.6 L351.3,1305.6 L351.4,1302.6 L351.6,1299.6 L351.8,1296.7 L351.9,1293.7 L352.1,1290.7 L352.2,1287.7 L352.3,1284.7 L352.5,1281.7 L352.6,1278.7 L352.8,1275.7 L352.9,1272.7 L353.0,1269.7 L353.2,1266.7 L353.3,1263.7 L353.4,1260.7 L353.5,1257.7 L353.7,1254.7 L353.8,1251.7 L353.9,1248.7 L354.0,1245.7 L354.1,1242.7 L354.2,1239.7 L354.3,1236.7 L354.5,1233.7 L354.6,1230.7 L354.7,1227.7 L354.8,1224.7 L354.9,1221.7 L355.0,1218.7 L355.1,1215.7 L355.2,1212.7 L355.3,1209.7 L355.4,1206.7 L355.5,1203.7 L355.6,1200.7 L355.6,1197.7 L355.7,1194.7 L355.8,1191.7 L355.9,1188.7 L356.0,1185.7 L356.1,1182.7 L356.2,1179.7 L356.3,1176.7 L356.4,1173.7 L356.4,1170.7 L356.5,1167.7 L356.6,1164.7 L356.7,1161.7 L356.8,1158.7 L356.9,1155.7 L356.9,1152.7 L357.0,1149.7 L357.1,1146.7 L357.2,1143.7 L357.3,1140.7 L357.3,1137.7 L357.4,1134.7 L357.5,1131.7 L357.6,1128.7 L357.7,1125.7 L357.8,1122.7 L357.8,1119.7 L357.9,1116.7 L358.0,1113.7 L358.1,1110.7 L358.2,1107.7 L358.3,1104.7 L358.3,1101.7 L358.4,1098.7 L358.5,1095.7 L358.6,1092.7 L358.7,1089.7 L358.8,1086.7 L358.9,1083.7 L358.9,1080.7 L359.0,1077.7 L359.1,1074.7 L359.2,1071.7 L359.3,1068.7 L359.4,1065.7 L359.5,1062.7 L359.6,1059.7 L359.7,1056.7 L359.8,1053.7 L359.9,1050.7 L359.9,1047.7 L360.0,1044.7 L360.1,1041.7 L360.2,1038.7 L360.3,1035.7 L360.4,1032.7 L360.5,1029.7 L360.6,1026.7 L360.7,1023.7 L360.8,1020.7 L360.9,1017.7 L361.0,1014.7 L361.1,1011.7 L361.2,1008.7 L361.3,1005.7 L361.4,1002.8 L361.5,999.8 L361.6,996.8 L361.7,993.8 L361.8,990.8 L361.9,987.8 L362.0,984.8 L362.1,981.8 L362.2,978.8 L362.3,975.8 L362.4,972.8 L362.5,969.8 L362.6,966.8 L362.7,963.8 L362.8,960.8 L362.9,957.8 L363.1,954.8 L363.2,951.8 L363.3,948.8 L363.4,945.8 L363.5,942.8 L363.6,939.8 L363.7,936.8 L363.8,933.8 L363.9,930.8 L364.0,927.8 L364.1,924.8 L364.2,921.8 L364.3,918.8 L364.4,915.8 L364.6,912.8 L364.7,909.8 L364.8,906.8 L364.9,903.8 L365.0,900.8 L365.1,897.8 L365.2,894.8 L365.3,891.8 L365.4,888.8 L365.5,885.8 L365.6,882.8 L365.7,879.8 L365.9,876.9 L366.0,873.9 L366.1,870.9 L366.2,867.9 L366.3,864.9 L366.4,861.9 L366.5,858.9 L366.6,855.9 L366.7,852.9 L366.8,849.9 L367.0,846.9 L367.1,843.9 L367.2,840.9 L367.3,837.9 L367.4,834.9 L367.5,831.9 L367.6,828.9 L367.7,825.9 L367.8,822.9 L367.9,819.9 L368.1,816.9 L368.2,813.9 L368.3,810.9 L368.4,807.9 L368.5,804.9 L368.6,801.9 L368.7,798.9 L368.8,795.9 L368.9,792.9 L369.0,789.9 L369.2,786.9 L369.3,783.9 L369.4,780.9 L369.5,777.9 L369.6,774.9 L369.7,771.9 L369.8,768.9 L369.9,765.9 L370.0,762.9 L370.1,759.9 L370.2,756.9 L370.3,753.9 L370.5,750.9 L370.6,747.9 L370.7,744.9 L370.8,741.9 L370.9,738.9 L371.0,735.9 L371.1,732.9 L371.2,729.9 L371.3,726.9 L371.4,723.9 L371.5,720.9 L371.6,717.9 L371.7,714.9 L371.8,711.9 L371.9,708.9 L372.0,705.9 L372.1,702.9 L372.2,699.9 L372.3,696.9 L372.5,693.9 L372.6,690.9 L372.7,687.9 L372.8,684.9 L372.9,681.9 L373.0,678.9 L373.1,675.9 L373.2,672.9 L373.3,669.9 L373.4,666.9 L373.5,663.9 L373.6,660.9 L373.7,657.9 L373.9,654.9 L374.0,651.9 L374.1,648.9 L374.2,645.9 L374.4,642.9 L374.5,639.9 L374.6,636.9 L374.8,633.9 L374.9,630.9 L375.1,627.9 L375.2,624.9 L375.4,621.9 L375.6,618.9 L375.7,615.9 L375.9,612.9 L376.1,609.9 L376.3,606.9 L376.5,603.9 L376.7,600.9 L376.9,597.9 L377.1,594.9 L377.3,592.0 L377.5,589.0 L377.8,586.0 L378.0,583.0 L378.3,580.0 L378.5,577.0 L378.8,574.0 L379.0,571.0 L379.3,568.1 L379.6,565.1 L379.9,562.1 L380.2,559.1 L380.5,556.1 L380.9,553.1 L381.2,550.2 L381.5,547.2 L381.9,544.2 L382.3,541.2 L382.6,538.3 L383.0,535.3 L383.4,532.3 L383.8,529.3 L384.2,526.4 L384.7,523.4 L385.1,520.4 L385.6,517.5 L386.0,514.5 L386.5,511.5 L387.0,508.6 L387.5,505.6 L388.0,502.7 L388.5,499.7 L389.1,496.8 L389.6,493.8 L390.2,490.9 L390.9,487.9 L391.6,485.0 L392.3,482.1 L393.2,479.3 L394.1,476.5 L395.1,473.7 L396.2,470.9 L397.4,468.2 L398.7,465.5 L400.2,462.9 L401.8,460.4 L403.6,457.9 L405.4,455.4 L407.3,453.0 L409.2,450.5 L410.9,448.1 L412.6,445.6 L414.3,443.1 L416.0,440.7 L417.7,438.3 L419.5,436.0 L421.4,433.7 L423.4,431.4 L425.3,429.1 L427.3,426.8 L429.3,424.6 L431.3,422.3 L433.3,420.0 L435.3,417.8 L437.3,415.5 L439.3,413.4 L441.5,411.5 L443.9,409.8 L446.4,408.3 L449.0,406.8 L451.6,405.4 L454.2,404.0 L456.8,402.5 L459.4,401.0 L462.0,399.5 L464.6,398.0 L467.2,396.5 L469.9,395.1 L472.5,393.6 L475.2,392.1 L477.8,390.7 L480.5,389.2 L483.2,387.8 L485.8,386.4 L488.5,385.1 L491.2,383.7 L493.9,382.4 L496.6,381.1 L499.3,379.8 L502.0,378.6 L504.8,377.4 L507.5,376.1 L510.2,374.9 L513.0,373.8 L515.7,372.6 L518.5,371.5 L521.2,370.3 L524.0,369.2 L526.8,368.1 L529.6,367.0 L532.3,366.0 L535.1,364.9 L537.9,363.9 L540.7,362.9 L543.6,361.9 L546.4,360.9 L549.2,359.9 L552.0,358.9 L554.9,357.9 L557.7,357.0 L560.5,356.0 L563.4,355.1 L566.2,354.2 L569.1,353.3 L572.0,352.4 L574.8,351.5 L577.7,350.6 L580.6,349.7 L583.5,348.8 L586.3,348.0 L589.2,347.1 L592.1,346.3 L595.0,345.5 L597.9,344.7 L600.8,343.9 L603.7,343.1 L606.6,342.3 L609.6,341.5 L612.5,340.7 L615.4,340.0 L618.3,339.2 L621.2,338.5 L624.2,337.8 L627.1,337.1 L630.0,336.4 L632.9,335.7 L635.9,335.0 L638.8,334.3 L641.7,333.7 L644.7,333.0 L647.6,332.4 L650.6,331.7 L653.5,331.1 L656.4,330.5 L659.4,329.9 L662.3,329.3 L665.3,328.7 L668.2,328.1 L671.2,327.6 L674.1,327.0 L677.1,326.5 L680.0,325.9 L683.0,325.4 L685.9,324.9 L688.9,324.4 L691.8,323.9 L694.8,323.4 L697.8,322.9 L700.7,322.4 L703.7,322.0 L706.6,321.5 L709.6,321.1 L712.6,320.7 L715.5,320.2 L718.5,319.8 L721.5,319.4 L724.4,319.0 L727.4,318.6 L730.4,318.2 L733.3,317.9 L736.3,317.5 L739.3,317.1 L742.3,316.8 L745.2,316.5 L748.2,316.1 L751.2,315.8 L754.2,315.5 L757.1,315.2 L760.1,314.9 L763.1,314.6 L766.1,314.3 L769.1,314.0 L772.0,313.8 L775.0,313.5 L778.0,313.3 L781.0,313.0 L784.0,312.8 L787.0,312.6 L789.9,312.3 L792.9,312.1 L795.9,311.9 L798.9,311.7 L801.9,311.5 L804.9,311.3 L807.9,311.2 L810.9,311.0 L813.9,310.8 L816.9,310.7 L819.8,310.5 L822.8,310.4 L825.8,310.3 L828.8,310.1 L831.8,310.0 L834.8,309.9 L837.8,309.8 L840.8,309.7 L843.8,309.6 L846.8,309.5 L849.8,309.4 L852.8,309.3 L855.8,309.3 L858.8,309.2 L861.8,309.2 L864.8,309.1 L867.8,309.1 L870.8,309.0 L873.8,309.0 L876.8,309.0 L879.8,308.9 L882.8,308.9 L885.8,308.9 L888.8,308.9 L891.8,308.9 L894.8,308.9 L897.8,308.9 L900.8,309.0 L903.8,309.0 L906.8,309.0 L909.8,309.0 L912.8,309.1 L915.8,309.1 L918.8,309.2 L921.8,309.2 L924.8,309.3 L927.8,309.4 L930.8,309.4 L933.8,309.5 L936.8,309.6 L939.8,309.7 L942.8,309.8 L945.8,309.9 L948.8,310.0 L951.8,310.1 L954.9,310.2 L957.9,310.3 L960.9,310.4 L963.9,310.5 L966.9,310.7 L969.9,310.8 L972.9,310.9 L975.9,311.1 L978.9,311.2 L981.9,311.4 L984.9,311.5 L987.9,311.7 L990.9,311.8 L993.9,312.0 L996.9,312.1 L999.9,312.3 L1002.9,312.5 L1005.9,312.7 L1008.9,312.8 L1011.9,313.0 L1014.9,313.2 L1017.9,313.4 L1020.9,313.6 L1023.9,313.8 L1026.9,314.0 L1029.9,314.2 L1032.9,314.4 L1035.9,314.7 L1038.9,314.9 L1041.9,315.1 L1044.9,315.4 L1047.9,315.6 L1050.9,315.8 L1053.9,316.1 L1056.9,316.4 L1059.8,316.6 L1062.8,316.9 L1065.8,317.2 L1068.8,317.4 L1071.8,317.7 L1074.8,318.0 L1077.8,318.3 L1080.8,318.6 L1083.7,318.9 L1086.7,319.3 L1089.7,319.6 L1092.7,319.9 L1095.7,320.3 L1098.7,320.6 L1101.6,321.0 L1104.6,321.3 L1107.6,321.7 L1110.6,322.1 L1113.5,322.4 L1116.5,322.8 L1119.5,323.2 L1122.4,323.6 L1125.4,324.1 L1128.4,324.5 L1131.3,324.9 L1134.3,325.3 L1137.3,325.8 L1140.2,326.2 L1143.2,326.7 L1146.1,327.2 L1149.1,327.7 L1152.1,328.2 L1155.0,328.7 L1158.0,329.2 L1160.9,329.7 L1163.9,330.2 L1166.8,330.8 L1169.7,331.3 L1172.7,331.9 L1175.6,332.4 L1178.6,333.0 L1181.5,333.6 L1184.4,334.2 L1187.4,334.8 L1190.3,335.4 L1193.2,336.0 L1196.2,336.7 L1199.1,337.3 L1202.0,338.0 L1204.9,338.7 L1207.8,339.3 L1210.8,340.0 L1213.7,340.7 L1216.6,341.5 L1219.5,342.2 L1222.4,342.9 L1225.3,343.7 L1228.2,344.4 L1231.1,345.2 L1234.0,346.0 L1236.9,346.8 L1239.8,347.6 L1242.7,348.4 L1245.6,349.3 L1248.5,350.1 L1251.3,351.0 L1254.2,351.8 L1257.1,352.7 L1260.0,353.6 L1262.8,354.5 L1265.7,355.5 L1268.6,356.4 L1271.4,357.4 L1274.3,358.4 L1277.1,359.3 L1279.9,360.4 L1282.8,361.4 L1285.6,362.4 L1288.4,363.5 L1291.2,364.6 L1294.0,365.7 L1296.8,366.8 L1299.6,368.0 L1302.3,369.1 L1305.1,370.3 L1307.8,371.5 L1310.5,372.8 L1313.3,374.0 L1316.0,375.3 L1318.7,376.6 L1321.3,377.9 L1324.0,379.3 L1326.6,380.7 L1329.3,382.1 L1331.9,383.5 L1334.5,384.9 L1337.1,386.4 L1339.7,387.9 L1342.2,389.5 L1344.8,391.1 L1347.3,392.7 L1349.8,394.3 L1352.3,396.0 L1354.7,397.6 L1357.2,399.4 L1359.6,401.1 L1362.0,402.9 L1364.4,404.7 L1366.7,406.5 L1369.1,408.4 L1371.4,410.3 L1373.7,412.2 L1376.0,414.1 L1378.3,416.1 L1380.6,418.1 L1382.8,420.1 L1385.0,422.1 L1387.2,424.2 L1389.4,426.2 L1391.6,428.3 L1393.7,430.5 L1395.8,432.6 L1397.9,434.8 L1400.0,436.9 L1402.1,439.1 L1404.1,441.4 L1406.2,443.6 L1408.2,445.8 L1410.2,448.1 L1412.1,450.4 L1414.1,452.7 L1416.0,455.0 L1417.9,457.4 L1419.8,459.7 L1421.7,462.1 L1423.6,464.5 L1425.4,466.8 L1427.2,469.2 L1429.0,471.7 L1430.8,474.1 L1432.6,476.5 L1434.3,479.0 L1436.1,481.4 L1437.8,483.9 L1439.5,486.4 L1441.1,488.9 L1442.8,491.4 L1444.4,493.9 L1446.1,496.4 L1447.7,498.9 L1449.3,501.4 L1450.8,504.0 L1452.4,506.5 L1453.9,509.1 L1455.5,511.7 L1457.0,514.3 L1458.5,516.8 L1460.0,519.4 L1461.4,522.0 L1462.9,524.7 L1464.3,527.3 L1465.7,529.9 L1467.2,532.5 L1468.6,535.2 L1469.9,537.8 L1471.3,540.5 L1472.7,543.2 L1474.0,545.8 L1475.3,548.5 L1476.7,551.2 L1478.0,553.9 L1479.3,556.6 L1480.6,559.3 L1481.8,562.0 L1483.1,564.7 L1484.3,567.4 L1485.6,570.2 L1486.8,572.9 L1488.0,575.6 L1489.3,578.4 L1490.5,581.1 L1491.6,583.9 L1492.8,586.6 L1494.0,589.4 L1495.2,592.1 L1496.3,594.9 L1497.5,597.7 L1498.6,600.5 L1499.7,603.2 L1500.9,606.0 L1502.0,608.8 L1503.1,611.6 L1504.2,614.4 L1505.2,617.2 L1506.3,620.0 L1507.4,622.8 L1508.5,625.6 L1509.5,628.5 L1510.6,631.3 L1511.6,634.1 L1512.6,636.9 L1513.7,639.7 L1514.7,642.6 L1515.7,645.4 L1516.7,648.2 L1517.7,651.1 L1518.7,653.9 L1519.6,656.8 L1520.6,659.6 L1521.6,662.5 L1522.5,665.3 L1523.5,668.2 L1524.5,671.0 L1525.4,673.9 L1526.3,676.7 L1527.3,679.6 L1528.2,682.4 L1529.1,685.3 L1530.0,688.1 L1530.9,691.0 L1531.8,693.9 L1532.7,696.7 L1533.6,699.6 L1534.5,702.5 L1535.4,705.3 L1536.3,708.2 L1537.2,711.1 L1538.0,713.9 L1538.9,716.8 L1539.8,719.7 L1540.6,722.5 L1541.5,725.4 L1542.3,728.3 L1543.2,731.1 L1544.0,734.0"/>
</g>
<path fill="#000" d="M1148.0,948.0 H1318.0 L1320.0,950.0 V956.0 L1318.0,958.0 H1148.0 L1146.0,956.0 V950.0 Z"/>
<path fill="#f00" d="M1148.0,1038.0 H1318.0 L1320.0,1040.0 V1046.0 L1318.0,1048.0 H1148.0 L1146.0,1046.0 V1040.0 Z"/>
<path fill="#0f0" d="M1148.0,1128.0 H1318.0 L1320.0,1130.0 V1136.0 L1318.0,1138.0 H1148.0 L1146.0,1136.0 V1130.0 Z"/>
<path fill="#00f" d="M1148.0,1218.0 H1318.0 L1320.0,1220.0 V1226.0 L1318.0,1228.0 H1148.0 L1146.0,1226.0 V1220.0 Z"/>
<g font-family="'Liberation Sans', Arial, sans-serif" font-size="73" fill="#000">
<text x="313" y="1396.5" text-anchor="end">0</text>
<text x="313" y="1212.1" text-anchor="end">200</text>
<text x="313" y="1027.6" text-anchor="end">400</text>
<text x="313" y="843.2" text-anchor="end">600</text>
<text x="313" y="658.8" text-anchor="end">800</text>
<text x="313" y="474.4" text-anchor="end">1000</text>
<text x="313" y="289.9" text-anchor="end">1200</text>
<text x="313" y="105.5" text-anchor="end">1400</text>
<text x="345.0" y="1462" text-anchor="middle">0</text>
<text x="581.9" y="1462" text-anchor="middle">5</text>
<text x="817.2" y="1462" text-anchor="middle">10</text>
<text x="1054.1" y="1462" text-anchor="middle">15</text>
<text x="1290.9" y="1462" text-anchor="middle">20</text>
<text x="1527.8" y="1462" text-anchor="middle">25</text>
<text x="1764.6" y="1462" text-anchor="middle">30</text>
<text x="2001.5" y="1462" text-anchor="middle">35</text>
<text x="1172.6" y="1550" text-anchor="middle" font-weight="bold">Strain (%)</text>
<text transform="translate(143,729.5) rotate(-90)" text-anchor="middle" font-weight="bold">Stress (MPa)</text>
<text x="1353" y="977.8">SLM-HT at RT</text>
<text x="1353" y="1067.8">SLM-HT at 650</text>
<text x="1353" y="1157.8">Wrought at RT</text>
<text x="1353" y="1247.8">Wrought at 650</text>
<text transform="translate(1873.4,1071.3) scale(0.960,0.975)" font-family="'Liberation Sans', IPAGothic, 'Noto Sans CJK JP', sans-serif" stroke="#fdfdfd" stroke-width="1.8">℃</text>
<text transform="translate(1881.4,1251.3) scale(0.960,0.975)" font-family="'Liberation Sans', IPAGothic, 'Noto Sans CJK JP', sans-serif" stroke="#fdfdfd" stroke-width="1.8">℃</text>
</g>
</svg>
</body></html>
